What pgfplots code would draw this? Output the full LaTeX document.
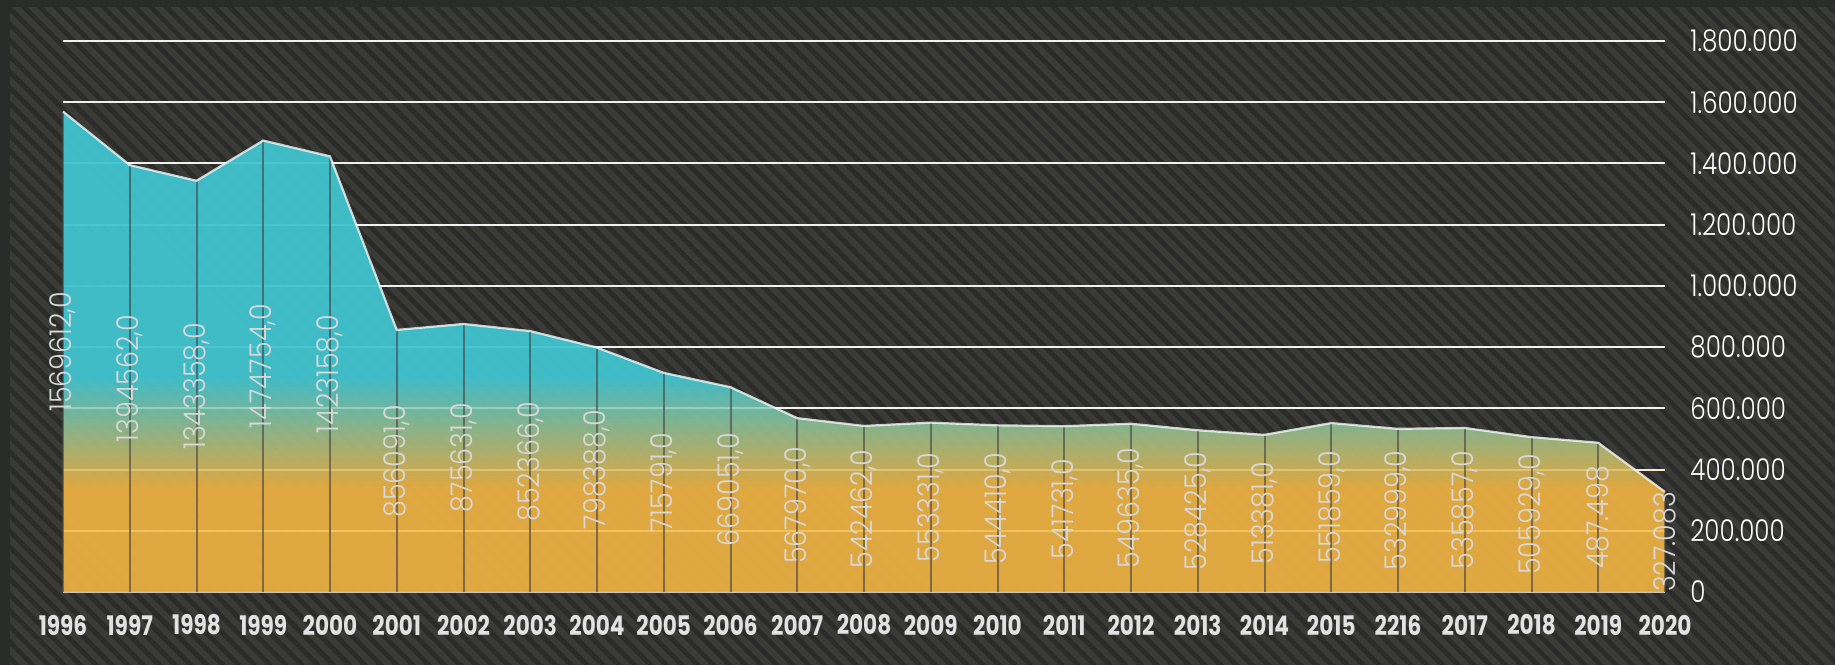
\documentclass[border=0pt]{standalone}
\usepackage{pgfplots}
\pgfplotsset{compat=1.18}
\usepackage{pgfplotstable}
\usepackage{fontspec}
\usetikzlibrary{patterns.meta}
\setmainfont{Poppins}
\newfontfamily\lightfont{Poppins Light}[FakeStretch=0.82]
\newfontfamily\valfont{Poppins Light}[FakeStretch=0.9]
\newfontfamily\yearfont{Poppins Bold}[FakeStretch=0.8]

\definecolor{bgbase}{HTML}{3A3A36}
\definecolor{bgstripe}{HTML}{2B2B29}
\definecolor{border}{HTML}{2A2C2A}
\definecolor{tealA}{HTML}{41C3CF}
\definecolor{orangeA}{HTML}{E8AE42}
\definecolor{textgray}{HTML}{E2E2E2}
\definecolor{labgray}{HTML}{D8D8D8}
\definecolor{baseline}{HTML}{C8C8C8}

% orange below ~340k, teal above ~700k (bbox 0..1569612 maps to 25bp..75bp)
\pgfdeclareverticalshading{areashade}{100bp}{color(0bp)=(orangeA); color(35.9bp)=(orangeA); color(47.4bp)=(tealA); color(100bp)=(tealA)}

\pgfplotstableread{
x y lab
0 1569612 1569612,0
1 1394562 1394562,0
2 1343358 1343358,0
3 1474754 1474754,0
4 1423158 1423158,0
5 856091 856091,0
6 875631 875631,0
7 852366 852366,0
8 798388 798388,0
9 715791 715791,0
10 669051 669051,0
11 567970 567970,0
12 542462 542462,0
13 553331 553331,0
14 544410 544410,0
15 541731 541731,0
16 549635 549635,0
17 528425 528425,0
18 513381 513381,0
19 551859 551859,0
20 532999 532999,0
21 535857 535857,0
22 505929 505929,0
23 487498 487.498
24 327083 327.083
}\datatable

\begin{document}
\begin{tikzpicture}
\useasboundingbox (0,0) rectangle (917.5pt,332pt);
\fill[bgbase] (-5pt,-5pt) rectangle (925pt,340pt);
\fill[pattern={Lines[angle=-45,distance=5.6pt,line width=2.4pt]}, pattern color=bgstripe] (-5pt,-5pt) rectangle (925pt,340pt);
\fill[border] (-5pt,-5pt) rectangle (5pt,340pt);
\fill[border] (-5pt,328.5pt) rectangle (925pt,340pt);
\begin{axis}[
    at={(31.5pt,36pt)}, anchor=south west,
    scale only axis, width=801pt, height=275.5pt,
    xmin=0, xmax=24, ymin=0, ymax=1800000,
    clip=false,
    scaled y ticks=false,
    axis x line*=bottom, axis y line*=right,
    x axis line style={draw=baseline, line width=1pt, -},
    y axis line style={draw=none},
    major tick length=0pt,
    xtick={0,...,24},
    xticklabels={1996,1997,1998,1999,2000,2001,2002,2003,2004,2005,2006,2007,2008,2009,2010,2011,2012,2013,2014,2015,2216,2017,2018,2019,2020},
    ytick={0,200000,...,1800000},
    yticklabels={0,200.000,400.000,600.000,800.000,1.000.000,1.200.000,1.400.000,1.600.000,1.800.000},
    ymajorgrids,
    grid style={draw=white!94!black, line width=1pt},
    xticklabel style={font=\yearfont\fontsize{13.5}{13.5}\selectfont, text=textgray, anchor=center, yshift=-16.5pt},
    yticklabel style={font=\lightfont\fontsize{15}{15}\selectfont, text=white, anchor=west, inner sep=0pt, xshift=12.5pt},
]
% gradient area
\addplot[draw=none, shading=areashade, fill opacity=0.95] table[x=x, y=y] {\datatable} \closedcycle;
% grid lines seen through the area
\draw[color={rgb,255:red,255;green,215;blue,120}, opacity=0.45, line width=1pt] (axis cs:0,200000) -- (axis cs:24,200000);
\draw[color={rgb,255:red,255;green,225;blue,150}, opacity=0.35, line width=1pt] (axis cs:0,400000) -- (axis cs:24,400000);
\draw[color=white, opacity=0.25, line width=1pt] (axis cs:0,600000) -- (axis cs:24,600000);
% drop lines
\addplot[ycomb, mark=none, draw={rgb,255:red,64;green,64;blue,64}, draw opacity=0.6, line width=1pt] table[x=x, y=y] {\datatable};
% top edge
\addplot[mark=none, draw=white, draw opacity=0.75, line width=1.1pt] table[x=x, y=y] {\datatable};
% value labels, halfway up each drop line
\addplot[draw=none, mark=none, nodes near coords, point meta=explicit symbolic,
    nodes near coords style={rotate=90, anchor=center, inner sep=0pt, text=labgray, font=\valfont\fontsize{15}{15}\selectfont}]
    table[x=x, y expr=\thisrow{y}/2, meta=lab] {\datatable};
\end{axis}
\end{tikzpicture}
\end{document}
